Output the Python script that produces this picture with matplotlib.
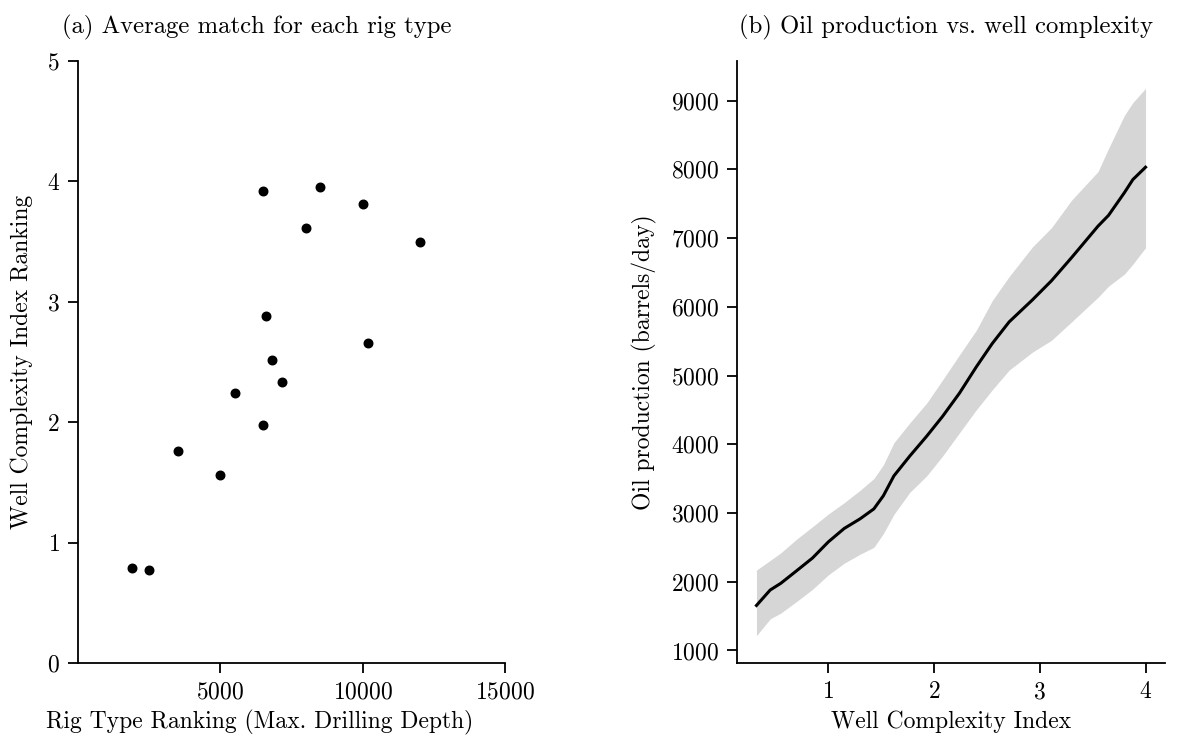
import matplotlib
matplotlib.use("Agg")
import matplotlib.pyplot as plt

plt.rcParams['font.family'] = 'cmr10'
plt.rcParams['mathtext.fontset'] = 'cm'
plt.rcParams['axes.unicode_minus'] = False
plt.rcParams['axes.formatter.use_mathtext'] = True
plt.rcParams['font.size'] = 17

# (a) average match for each rig type
rig_depth = [1900, 2500, 3500, 5000, 5500, 6500, 6500, 6600, 6800, 7150, 8000, 8500, 10000, 10200, 12000]
complexity_rank = [0.79, 0.77, 1.76, 1.56, 2.24, 1.98, 3.92, 2.88, 2.52, 2.33, 3.61, 3.95, 3.81, 2.66, 3.50]

# (b) oil production vs. well complexity
wci = [0.32, 0.45, 0.55, 0.70, 0.85, 1.00, 1.15, 1.30, 1.43, 1.52, 1.62, 1.77, 1.93,
       2.08, 2.24, 2.40, 2.55, 2.71, 2.93, 3.11, 3.30, 3.55, 3.65, 3.80, 3.88, 4.00]
oil_mean = [1655, 1880, 1977, 2160, 2345, 2580, 2775, 2915, 3059, 3250, 3540, 3828, 4117,
            4405, 4743, 5127, 5465, 5780, 6100, 6378, 6714, 7172, 7330, 7660, 7850, 8030]
oil_upper = [2169, 2310, 2420, 2620, 2800, 2985, 3150, 3330, 3500, 3700, 4022, 4310, 4599,
             4935, 5300, 5660, 6089, 6440, 6870, 7150, 7550, 7966, 8302, 8784, 8970, 9177]
oil_lower = [1216, 1460, 1544, 1713, 1890, 2100, 2270, 2400, 2500, 2700, 2980, 3300, 3540,
             3828, 4166, 4502, 4791, 5079, 5340, 5512, 5780, 6137, 6300, 6475, 6620, 6859]

fig = plt.figure(figsize=(11.97, 7.40), dpi=100)
ax1 = fig.add_axes([78/1197, 1 - 663/740, (505-78)/1197, (663-61)/740])
ax2 = fig.add_axes([737/1197, 1 - 663/740, (1165-737)/1197, (663-61)/740])

ax1.scatter(rig_depth, complexity_rank, s=38, color='black', zorder=3)
ax1.set_xlim(0, 15000)
ax1.set_ylim(0, 5)
ax1.set_xticks([5000, 10000, 15000])
ax1.set_yticks([0, 1, 2, 3, 4, 5])
ax1.set_xlabel('Rig Type Ranking (Max. Drilling Depth)', labelpad=5)
ax1.xaxis.label.set_x(0.426)
ax1.set_ylabel('Well Complexity Index Ranking', labelpad=10)

ax2.fill_between(wci, oil_lower, oil_upper, color='#d6d6d6', linewidth=0)
ax2.plot(wci, oil_mean, color='black', linewidth=2.2)
ax2.set_xticks([1, 2, 3, 4])
ax2.set_yticks(range(1000, 10000, 1000))
ax2.set_xlabel('Well Complexity Index', labelpad=5)
ax2.set_ylabel('Oil production (barrels/day)', labelpad=10)

for ax in (ax1, ax2):
    ax.spines['top'].set_visible(False)
    ax.spines['right'].set_visible(False)
    for s in ('left', 'bottom'):
        ax.spines[s].set_linewidth(1.3)
    ax.tick_params(length=7, width=1.3, pad=6)

fig.text(257/1197, 1 - 27/740, '(a) Average match for each rig type', ha='center', va='center', fontsize=17.8)
fig.text(946/1197, 1 - 27/740, '(b) Oil production vs. well complexity', ha='center', va='center', fontsize=17.8)

fig.savefig('out.png', dpi=100)
